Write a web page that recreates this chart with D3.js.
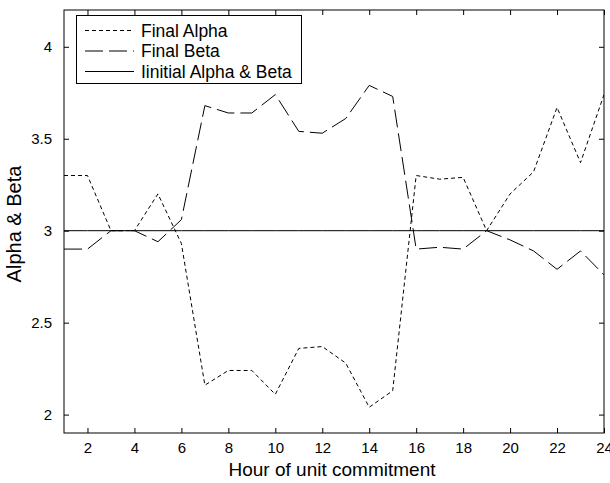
<!DOCTYPE html>
<html>
<head>
<meta charset="utf-8">
<script src="https://cdn.jsdelivr.net/npm/d3@7"></script>
<style>
  body { margin: 0; background: #fff; }
  text { font-family: "Liberation Sans", Arial, sans-serif; fill: #000; }
</style>
</head>
<body>
<svg id="chart" width="610" height="483"></svg>
<script>
const hours = d3.range(1, 25);
const finalAlpha = [3.30, 3.30, 3.00, 3.00, 3.20, 2.93, 2.16, 2.24, 2.24, 2.11, 2.36, 2.37, 2.28, 2.04, 2.13, 3.30, 3.28, 3.29, 3.00, 3.20, 3.32, 3.67, 3.37, 3.74];
const finalBeta  = [2.90, 2.90, 3.00, 3.00, 2.94, 3.06, 3.68, 3.64, 3.64, 3.74, 3.54, 3.53, 3.61, 3.79, 3.73, 2.90, 2.91, 2.90, 3.00, 2.95, 2.89, 2.79, 2.89, 2.76];
const initialAB  = hours.map(() => 3.0);
const xTicks = [2, 4, 6, 8, 10, 12, 14, 16, 18, 20, 22, 24];
const yTicks = [2, 2.5, 3, 3.5, 4];
const seriesNames = ["Final Alpha", "Final Beta", "Iinitial Alpha & Beta"];

const svg = d3.select("#chart");
const L = 64, R = 604, T = 10, B = 433;
const x = d3.scaleLinear().domain([1, 24]).range([L, R]);
const y = d3.scaleLinear().domain([1.9, 4.2]).range([B, T]);

const styles = [
  { dash: "4,3" },
  { dash: "18,6" },
  { dash: null }
];
const seriesData = [finalAlpha, finalBeta, initialAB];

const line = d3.line().x((d, i) => x(hours[i])).y(d => y(d));
const clip = svg.append("clipPath").attr("id", "clip").append("rect")
  .attr("x", L).attr("y", T).attr("width", R - L).attr("height", B - T);

seriesData.forEach((s, k) => {
  svg.append("path").datum(s)
    .attr("clip-path", "url(#clip)")
    .attr("fill", "none").attr("stroke", "#000").attr("stroke-width", 1)
    .attr("stroke-dasharray", styles[k].dash)
    .attr("d", line);
});

// Axes (inward ticks, box)
const tick = 5;
const axB = svg.append("g").attr("transform", `translate(0,${B})`)
  .call(d3.axisBottom(x).tickValues(xTicks).tickSize(-tick).tickPadding(10).tickFormat(d3.format("d")));
const axT = svg.append("g").attr("transform", `translate(0,${T})`)
  .call(d3.axisTop(x).tickValues(xTicks).tickSize(-tick).tickFormat(""));
const axL = svg.append("g").attr("transform", `translate(${L},0)`)
  .call(d3.axisLeft(y).tickValues(yTicks).tickSize(-tick).tickPadding(12).tickFormat(d => d3.format("")(d)));
const axR = svg.append("g").attr("transform", `translate(${R},0)`)
  .call(d3.axisRight(y).tickValues(yTicks).tickSize(-tick).tickFormat(""));
[axB, axT, axL, axR].forEach(a => {
  a.selectAll("path.domain").attr("d", null).remove();
  a.selectAll("line").attr("stroke", "#000");
  a.selectAll("text").style("font-size", "15px").style("font-family", "Liberation Sans, Arial, sans-serif").attr("fill", "#000");
});
axB.selectAll("text").attr("dy", "0.71em").attr("y", 9);
svg.append("rect").attr("x", L).attr("y", T).attr("width", R - L).attr("height", B - T)
  .attr("fill", "none").attr("stroke", "#000").attr("stroke-width", 1);

// Axis labels
svg.append("text").attr("x", 332).attr("y", 475.5).attr("text-anchor", "middle")
  .style("font-size", "19px").text("Hour of unit commitment");
svg.append("text").attr("transform", "translate(21,224) rotate(-90)").attr("text-anchor", "middle")
  .style("font-size", "20px").text("Alpha & Beta");

// Legend
const lg = svg.append("g");
lg.append("rect").attr("x", 76.5).attr("y", 15.5).attr("width", 225).attr("height", 68)
  .attr("fill", "#fff").attr("stroke", "#000").attr("stroke-width", 1);
const rowY = [30.5, 51, 71.5];
seriesNames.forEach((name, k) => {
  lg.append("line").attr("x1", 85).attr("x2", 134).attr("y1", rowY[k]).attr("y2", rowY[k])
    .attr("stroke", "#000").attr("stroke-width", 1).attr("stroke-dasharray", styles[k].dash);
  lg.append("text").attr("x", 141).attr("y", rowY[k]).attr("dy", "0.36em")
    .style("font-size", "17.5px").text(name);
});
</script>
</body>
</html>
